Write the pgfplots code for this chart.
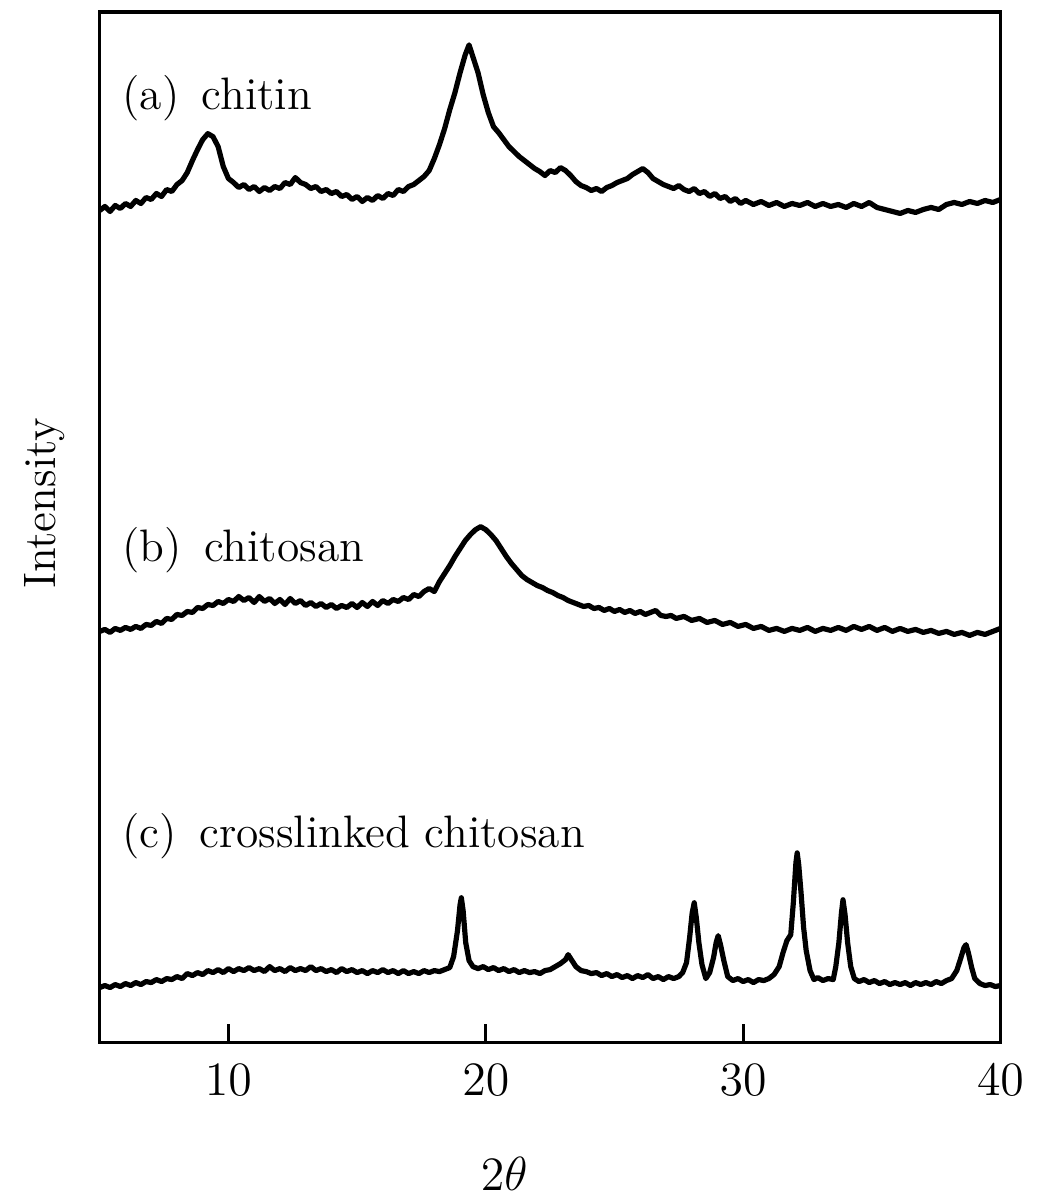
\documentclass[border=0pt]{standalone}
\usepackage{pgfplots}
\pgfplotsset{compat=1.18}
\begin{document}
\begin{tikzpicture}
  \begin{axis}[
    name=ax,
    scale only axis,
    width=225.75pt, height=258.25pt,
    xmin=5, xmax=40,
    ymin=0, ymax=1033,
    xtick={10,20,30,40},
    ytick=\empty,
    xtick pos=bottom,
    xtick align=inside,
    major tick length=4.5pt,
    axis line style={line width=0.8pt},
    xtick style={line width=0.8pt, black},
    tick label style={font=\fontsize{11.5}{13}\selectfont},
    xticklabel style={yshift=-2pt},
    xlabel={$2\theta$},
    xlabel style={at={(axis description cs:0.449,0)}, anchor=center, yshift=-33pt,
      font=\fontsize{11.5}{13}\selectfont},
    ylabel={Intensity},
    ylabel style={at={(axis description cs:-0.0609,0.523)}, anchor=center,
      font=\fontsize{11.4}{13}\selectfont},
    xrd/.style={black, line width=1.3pt, line join=round, mark=none},
  ]
    % (a) chitin
    \addplot[xrd] coordinates {
      (5.0,834)(5.2,838)(5.4,833)(5.6,839)(5.8,836)(6.0,841)(6.2,838)(6.4,844)(6.6,841)(6.8,847)
      (7.0,845)(7.2,851)(7.4,848)(7.6,855)(7.8,853)(8.0,860)(8.2,864)(8.4,872)(8.6,884)(8.8,895)
      (9.0,905)(9.2,911)(9.4,908)(9.6,898)(9.8,878)(10.0,866)(10.2,862)(10.4,857)(10.6,860)(10.8,855)
      (11.0,858)(11.2,853)(11.4,857)(11.6,854)(11.8,858)(12.0,856)(12.2,862)(12.4,860)(12.6,867)(12.8,862)
      (13.0,860)(13.2,856)(13.4,858)(13.6,853)(13.8,855)(14.0,851)(14.2,853)(14.4,848)(14.6,850)(14.8,845)
      (15.0,848)(15.2,843)(15.4,847)(15.6,844)(15.8,849)(16.0,846)(16.2,851)(16.4,849)(16.6,855)(16.8,853)
      (17.0,858)(17.2,860)(17.4,864)(17.6,868)(17.8,874)(18.0,886)(18.2,900)(18.4,916)(18.6,935)(18.8,952)
      (19.0,972)(19.2,990)(19.35,1000)(19.5,988)(19.7,972)(19.9,950)(20.1,932)(20.3,918)(20.5,912)(20.7,905)
      (20.9,898)(21.1,893)(21.3,888)(21.5,884)(21.7,880)(21.9,876)(22.1,873)(22.3,869)(22.5,874)(22.7,872)
      (22.9,877)(23.1,874)(23.3,869)(23.5,863)(23.7,859)(23.9,857)(24.1,854)(24.3,856)(24.5,853)(24.7,857)
      (24.9,859)(25.1,862)(25.3,864)(25.5,866)(25.7,870)(25.9,873)(26.1,876)(26.3,872)(26.5,866)(26.7,863)
      (26.9,860)(27.1,858)(27.3,856)(27.5,859)(27.7,855)(27.9,853)(28.1,856)(28.3,851)(28.5,853)(28.7,848)
      (28.9,851)(29.1,846)(29.3,848)(29.5,843)(29.7,846)(29.9,841)(30.1,844)(30.4,840)(30.7,843)(31.0,839)
      (31.3,842)(31.6,838)(31.9,841)(32.2,839)(32.5,842)(32.8,838)(33.1,841)(33.4,838)(33.7,840)(34.0,837)
      (34.3,841)(34.6,838)(34.9,842)(35.2,837)(35.5,835)(35.8,833)(36.1,831)(36.4,834)(36.7,832)(37.0,835)
      (37.3,837)(37.6,835)(37.9,840)(38.2,842)(38.5,840)(38.8,843)(39.1,841)(39.4,844)(39.7,842)(40.0,845)
    };
    % (b) chitosan
    \addplot[xrd] coordinates {
      (5.0,412)(5.2,414)(5.4,411)(5.6,415)(5.8,413)(6.0,416)(6.2,414)(6.4,417)(6.6,415)(6.8,419)
      (7.0,418)(7.2,422)(7.4,420)(7.6,425)(7.8,424)(8.0,429)(8.2,428)(8.4,432)(8.6,431)(8.8,436)
      (9.0,435)(9.2,439)(9.4,438)(9.6,442)(9.8,440)(10.0,444)(10.2,442)(10.4,447)(10.6,443)(10.8,446)
      (11.0,441)(11.2,447)(11.4,442)(11.6,445)(11.8,440)(12.0,444)(12.2,439)(12.4,445)(12.6,440)(12.8,443)
      (13.0,438)(13.2,441)(13.4,437)(13.6,440)(13.8,436)(14.0,439)(14.2,435)(14.4,438)(14.6,436)(14.8,440)
      (15.0,436)(15.2,441)(15.4,437)(15.6,442)(15.8,438)(16.0,443)(16.2,440)(16.4,444)(16.6,442)(16.8,446)
      (17.0,444)(17.2,449)(17.4,447)(17.6,452)(17.8,455)(18.0,452)(18.2,462)(18.4,470)(18.6,478)(18.8,487)
      (19.0,495)(19.2,503)(19.4,509)(19.6,514)(19.8,517)(20.0,514)(20.2,509)(20.4,503)(20.6,495)(20.8,487)
      (21.0,480)(21.2,474)(21.4,468)(21.6,464)(21.8,461)(22.0,458)(22.2,456)(22.4,453)(22.6,451)(22.8,448)
      (23.0,446)(23.2,443)(23.4,441)(23.6,439)(23.8,437)(24.0,438)(24.2,435)(24.4,436)(24.6,433)(24.8,435)
      (25.0,432)(25.2,434)(25.4,431)(25.6,433)(25.8,430)(26.0,432)(26.2,429)(26.4,431)(26.6,433)(26.8,428)
      (27.0,427)(27.2,428)(27.4,425)(27.7,427)(28.0,423)(28.3,425)(28.6,421)(28.9,423)(29.2,419)(29.5,421)
      (29.8,417)(30.1,419)(30.4,415)(30.7,417)(31.0,413)(31.3,415)(31.6,412)(31.9,415)(32.2,413)(32.5,416)
      (32.8,412)(33.1,415)(33.4,413)(33.7,416)(34.0,413)(34.3,417)(34.6,414)(34.9,417)(35.2,413)(35.5,416)
      (35.8,412)(36.1,415)(36.4,412)(36.7,414)(37.0,411)(37.3,413)(37.6,410)(37.9,412)(38.2,409)(38.5,411)
      (38.8,408)(39.1,411)(39.4,409)(39.7,412)(40.0,415)
    };
    % (c) crosslinked chitosan
    \addplot[xrd] coordinates {
      (5.0,55)(5.2,57)(5.4,55)(5.6,58)(5.8,56)(6.0,59)(6.2,57)(6.4,60)(6.6,58)(6.8,61)
      (7.0,60)(7.2,63)(7.4,61)(7.6,64)(7.8,63)(8.0,66)(8.2,64)(8.4,69)(8.6,67)(8.8,70)
      (9.0,68)(9.2,72)(9.4,70)(9.6,73)(9.8,70)(10.0,74)(10.2,71)(10.4,74)(10.6,72)(10.8,75)
      (11.0,72)(11.2,74)(11.4,71)(11.6,76)(11.8,72)(12.0,74)(12.2,71)(12.4,75)(12.6,72)(12.8,74)
      (13.0,72)(13.2,76)(13.4,72)(13.6,74)(13.8,71)(14.0,73)(14.2,70)(14.4,74)(14.6,71)(14.8,73)
      (15.0,70)(15.2,72)(15.4,69)(15.6,72)(15.8,70)(16.0,73)(16.2,70)(16.4,72)(16.6,69)(16.8,72)
      (17.0,69)(17.2,71)(17.4,69)(17.6,72)(17.8,70)(18.0,72)(18.2,71)(18.4,73)(18.6,75)(18.75,86)
      (18.9,112)(19.0,138)(19.05,145)(19.12,132)(19.22,100)(19.35,82)(19.5,76)(19.7,74)(19.9,76)(20.1,73)
      (20.3,75)(20.5,72)(20.7,74)(20.9,71)(21.1,73)(21.3,70)(21.5,72)(21.7,70)(21.9,71)(22.1,69)
      (22.3,72)(22.5,73)(22.7,76)(22.9,79)(23.1,83)(23.2,88)(23.35,82)(23.5,76)(23.7,72)(23.9,71)
      (24.1,69)(24.3,70)(24.5,67)(24.7,69)(24.9,66)(25.1,68)(25.3,65)(25.5,67)(25.7,64)(25.9,67)
      (26.1,65)(26.3,68)(26.5,64)(26.7,66)(26.9,63)(27.1,66)(27.3,64)(27.5,66)(27.65,70)(27.8,80)
      (27.92,105)(28.02,130)(28.1,140)(28.18,125)(28.28,100)(28.4,78)(28.55,64)(28.7,70)(28.85,85)(28.95,100)
      (29.03,107)(29.12,98)(29.25,82)(29.4,66)(29.6,62)(29.8,64)(30.0,61)(30.2,63)(30.4,60)(30.6,63)
      (30.8,62)(31.0,64)(31.2,68)(31.4,76)(31.55,90)(31.7,102)(31.85,108)(31.95,140)(32.05,180)(32.1,190)
      (32.16,178)(32.25,150)(32.35,115)(32.45,92)(32.6,72)(32.75,63)(32.9,65)(33.1,62)(33.3,64)(33.5,63)
      (33.6,76)(33.72,100)(33.82,130)(33.88,143)(33.96,128)(34.06,100)(34.18,76)(34.32,64)(34.5,61)(34.7,63)
      (34.9,60)(35.1,62)(35.3,59)(35.5,61)(35.7,58)(35.9,60)(36.1,58)(36.3,60)(36.5,57)(36.7,60)
      (36.9,58)(37.1,60)(37.3,58)(37.5,61)(37.7,59)(37.9,62)(38.1,64)(38.3,72)(38.45,84)(38.58,95)
      (38.66,98)(38.75,90)(38.88,75)(39.0,64)(39.2,59)(39.4,57)(39.6,58)(39.8,56)(40.0,57)
    };
    \node[anchor=west, inner sep=0pt, font=\fontsize{11.4}{13}\selectfont] at (axis cs:5.85,947) {(a)\, chitin};
    \node[anchor=west, inner sep=0pt, font=\fontsize{11.4}{13}\selectfont] at (axis cs:5.85,493) {(b)\, chitosan};
    \node[anchor=west, inner sep=0pt, font=\fontsize{11.4}{13}\selectfont] at (axis cs:5.85,207) {(c)\, crosslinked chitosan};
  \end{axis}
  \path (ax.south west) ++(-25pt,-39.75pt) rectangle ([xshift=9pt,yshift=3pt]ax.north east);
\end{tikzpicture}
\end{document}
